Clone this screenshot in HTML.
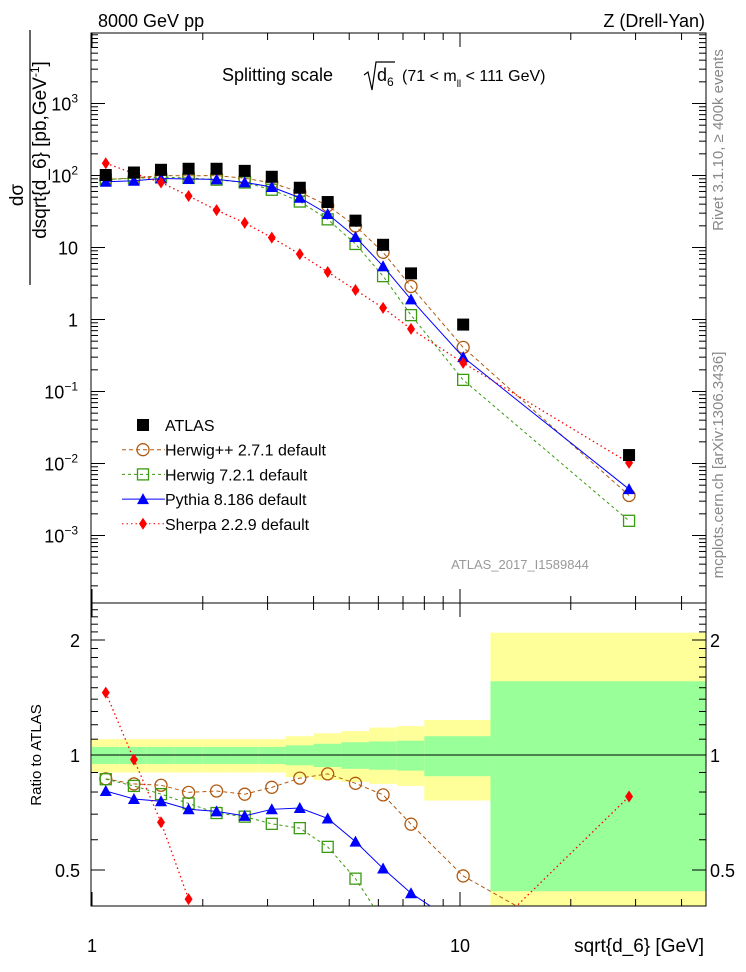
<!DOCTYPE html>
<html><head><meta charset="utf-8"><style>
html,body{margin:0;padding:0;background:#fff;overflow:hidden}
svg{display:block;font-family:"Liberation Sans",sans-serif}
</style></head><body>
<svg id="c" width="746" height="972" xmlns="http://www.w3.org/2000/svg"></svg>
<script>
const xs=[1.09,1.30,1.54,1.83,2.18,2.60,3.08,3.67,4.37,5.2,6.18,7.36,10.2,28.8];
const edges=[1,1.19,1.41,1.68,2,2.38,2.83,3.36,4,4.76,5.66,6.73,8,12.1,70];
const atlas=[101.6,110,120,124,124,116,96,67.6,42.8,23.6,10.9,4.37,0.85,0.0131];
const herwigpp=[88,92.4,100,99,99.8,91.6,79,58.8,38.2,19.9,8.57,2.88,0.41,0.0036];
const herwig7=[87.8,91.3,94.8,92.6,87.4,80,63.4,43.5,24.6,11.2,4.0,1.15,0.145,0.0016];
const pythia=[81.8,84.4,90.8,89.4,88.3,80.4,69.2,49.1,29.2,14.0,5.5,1.9,0.3,0.0044];
const sherpa=[148,107,80,52,33,22,13.7,8.1,4.57,2.57,1.45,0.74,0.25,0.0102];
const yelHi=[1.10,1.10,1.10,1.10,1.10,1.10,1.10,1.12,1.14,1.155,1.18,1.19,1.235,2.09];
const grnHi=[1.05,1.05,1.05,1.05,1.05,1.05,1.05,1.06,1.07,1.08,1.085,1.09,1.12,1.56];
const grnLo=[0.947,0.947,0.947,0.947,0.947,0.947,0.947,0.94,0.93,0.92,0.915,0.91,0.88,0.44];
const yelLo=[0.90,0.90,0.90,0.90,0.90,0.90,0.90,0.875,0.86,0.85,0.84,0.83,0.76,0.38];
const mainTicks=["10<tspan font-size='12' dy='-8'>3</tspan>","10<tspan font-size='12' dy='-8'>2</tspan>","10","1","10<tspan font-size='12' dy='-8'>−1</tspan>","10<tspan font-size='12' dy='-8'>−2</tspan>","10<tspan font-size='12' dy='-8'>−3</tspan>"];
const mainTickVals=[1000,100,10,1,0.1,0.01,0.001];
const ratioTickVals=[2,1,0.5];
const ratioTickLabels=["2","1","0.5"];

const L=91,R=706,T=33,MB=603,RB=906;
const X=v=>92+368*Math.log10(v);
const Y=v=>319.5-72*Math.log10(v);
const YR=v=>755-115*Math.log2(v);
const svg=document.getElementById('c');
const NS="http://www.w3.org/2000/svg";
function add(tag,at,parent){const e=document.createElementNS(NS,tag);for(const k in at)e.setAttribute(k,at[k]);(parent||svg).appendChild(e);return e;}
function clipRect(id,y0,y1){const cp=add('clipPath',{id:id});add('rect',{x:L,y:y0,width:R-L,height:y1-y0},cp);}
clipRect('cm',T,MB);clipRect('cr',MB,RB);

const gb=add('g',{'clip-path':'url(#cr)'});


for(let i=0;i<xs.length;i++){
  const x0=X(edges[i]),x1=X(edges[i+1]);
  const r1=add('rect',{x:x0,y:YR(yelHi[i]),width:x1-x0,height:YR(yelLo[i])-YR(yelHi[i]),fill:'#ffff99'},gb);
  
  
  const r2=add('rect',{x:x0,y:YR(grnHi[i]),width:x1-x0,height:YR(grnLo[i])-YR(grnHi[i]),fill:'#99ff99'},gb);
  
  
}
add('line',{x1:L,x2:R,y1:YR(1),y2:YR(1),stroke:'#000','stroke-width':1});

add('rect',{x:L,y:T,width:R-L,height:MB-T,fill:'none',stroke:'#000'});
add('rect',{x:L,y:MB,width:R-L,height:RB-MB,fill:'none',stroke:'#000'});

const xt=[];for(let d=1;d<=10;d*=10)for(let m=1;m<10;m++)xt.push(m*d);
xt.forEach(v=>{const x=X(v);if(x<L||x>R)return;const big=(v===1||v===10);const l=big?14:7;
 [[T,T+l],[MB,MB-l],[MB,MB+l],[RB,RB-l]].forEach(p=>add('line',{x1:x,x2:x,y1:p[0],y2:p[1],stroke:'#000'}));});
for(let e=-4;e<=4;e++)for(let m=1;m<10;m++){const v=m*Math.pow(10,e);const y=Y(v);if(y<T||y>MB)continue;const l=m===1?14:7;
 add('line',{x1:L,x2:L+l,y1:y,y2:y,stroke:'#000'});add('line',{x1:R,x2:R-l,y1:y,y2:y,stroke:'#000'});}
mainTickVals.forEach((v,i)=>{const t=add('text',{x:78,y:Y(v)+7,'font-size':18,'text-anchor':'end'});t.innerHTML=mainTicks[i];
 
 });
for(let v=0.4;v<=2.5;v+=0.1){const y=YR(v);if(y<MB||y>RB)continue;const big=Math.abs(v-1)<1e-6||Math.abs(v-2)<1e-6||Math.abs(v-0.5)<1e-6;const l=big?14:7;
 add('line',{x1:L,x2:L+l,y1:y,y2:y,stroke:'#000'});add('line',{x1:R,x2:R-l,y1:y,y2:y,stroke:'#000'});}
ratioTickVals.forEach((v,i)=>{
 const a=add('text',{x:80,y:YR(v)+7,'font-size':18,'text-anchor':'end'});a.textContent=ratioTickLabels[i];
 
 
 const b=add('text',{x:710,y:YR(v)+7,'font-size':18});b.textContent=ratioTickLabels[i];
 
 });
[['1',1],['10',10]].forEach(p=>{const t=add('text',{x:X(p[1]),y:952,'font-size':18,'text-anchor':'middle'});t.textContent=p[0];
 
 });

function marker(g,type,x,y,col){
 if(type==='sq')add('rect',{x:x-6,y:y-6,width:12,height:12,fill:col},g);
 else if(type==='osq')add('rect',{x:x-5.5,y:y-5.5,width:11,height:11,fill:'none',stroke:col,'stroke-width':1.3},g);
 else if(type==='oc')add('circle',{cx:x,cy:y,r:6,fill:'none',stroke:col,'stroke-width':1.3},g);
 else if(type==='tri')add('polygon',{points:`${x},${y-6} ${x-6},${y+5} ${x+6},${y+5}`,fill:col},g);
 else if(type==='dia')add('polygon',{points:`${x},${y-6} ${x-4},${y} ${x},${y+6} ${x+4},${y}`,fill:col},g);
}
const series=[
 {name:'herwigpp',d:herwigpp,col:'#b05a10',m:'oc',dash:'4,3',w:1},
 {name:'herwig7',d:herwig7,col:'#3a9a10',m:'osq',dash:'3,3',w:1},
 {name:'pythia',d:pythia,col:'#0000ff',m:'tri',dash:'',w:1},
 {name:'sherpa',d:sherpa,col:'#ff0000',m:'dia',dash:'1.5,3',w:1.3}];
series.forEach(s=>{
 const g=add('g',{'clip-path':'url(#cm)'});
 
 
 add('polyline',{points:s.d.map((v,i)=>X(xs[i])+','+Y(v)).join(' '),fill:'none',stroke:s.col,'stroke-width':s.w,'stroke-dasharray':s.dash},g);
 s.d.forEach((v,i)=>marker(g,s.m,X(xs[i]),Y(v),s.col));
 const gr=add('g',{'clip-path':'url(#cr)'});
 
 
 add('polyline',{points:s.d.map((v,i)=>X(xs[i])+','+YR(v/atlas[i])).join(' '),fill:'none',stroke:s.col,'stroke-width':s.w,'stroke-dasharray':s.dash},gr);
 s.d.forEach((v,i)=>marker(gr,s.m,X(xs[i]),YR(v/atlas[i]),s.col));
});
const ga=add('g',{});


atlas.forEach((v,i)=>marker(ga,'sq',X(xs[i]),Y(v),'#000'));

const leg=[['ATLAS','sq','#000',''],['Herwig++ 2.7.1 default','oc','#b05a10','4,3'],['Herwig 7.2.1 default','osq','#3a9a10','3,3'],['Pythia 8.186 default','tri','#0000ff',''],['Sherpa 2.2.9 default','dia','#ff0000','1.5,3']];
leg.forEach((l,i)=>{const y=425+i*24.7;const g=add('g',{});
 
 
 if(i>0)add('line',{x1:122,x2:165,y1:y,y2:y,stroke:l[2],'stroke-dasharray':l[3]},g);
 marker(g,l[1],143,y,l[2]);
 const t=add('text',{x:165,y:y+6,'font-size':16},g);t.textContent=l[0];});

function txt(x,y,s,at,name){const t=add('text',Object.assign({x:x,y:y},at));t.innerHTML=s;
 
 return t;}
txt(98,27,'8000 GeV pp',{'font-size':18},'top-left-label');
txt(705,27,'Z (Drell-Yan)',{'font-size':18,'text-anchor':'end'},'top-right-label');
txt(222,81,'Splitting scale',{'font-size':18},'plot-title');
add('polyline',{points:'364,75 368,72 372,90 376,62 395,62',fill:'none',stroke:'#000','stroke-width':1.2});
txt(377,81,'d<tspan font-size="12" dy="5">6</tspan>',{'font-size':18},'plot-title-var');
txt(402,81,'(71 &lt; m<tspan font-size="10" dy="6">ll</tspan><tspan dy="-6"> &lt; 111 GeV)</tspan>',{'font-size':16},'plot-title-range');
txt(520,569,'ATLAS_2017_I1589844',{'font-size':13,fill:'#999','text-anchor':'middle'},'analysis-id');
txt(704,952,'sqrt{d_6} [GeV]',{'font-size':19,'text-anchor':'end'},'x-axis-title');
txt(0,0,'Ratio to ATLAS',{'font-size':15,'text-anchor':'middle',transform:'translate(41,755) rotate(-90)'},'ratio-axis-title');
txt(0,0,'Rivet 3.1.10, ≥ 400k events',{'font-size':15,fill:'#888','text-anchor':'middle',transform:'translate(723,140) rotate(-90)'},'rivet-label');
txt(0,0,'mcplots.cern.ch [arXiv:1306.3436]',{'font-size':15,fill:'#888','text-anchor':'middle',transform:'translate(723,465) rotate(-90)'},'mcplots-label');
txt(0,0,'dσ',{'font-size':19,'text-anchor':'middle',transform:'translate(23,195) rotate(-90)'},'y-title-num');
add('line',{x1:30,x2:30,y1:30,y2:285,stroke:'#000','stroke-width':1.2});
txt(0,0,'dsqrt{d_6} [pb,GeV<tspan font-size="12" dy="-7">-1</tspan><tspan dy="7">]</tspan>',{'font-size':19,'text-anchor':'middle',transform:'translate(46,150) rotate(-90)'},'y-axis-title');
</script>
</body></html>
